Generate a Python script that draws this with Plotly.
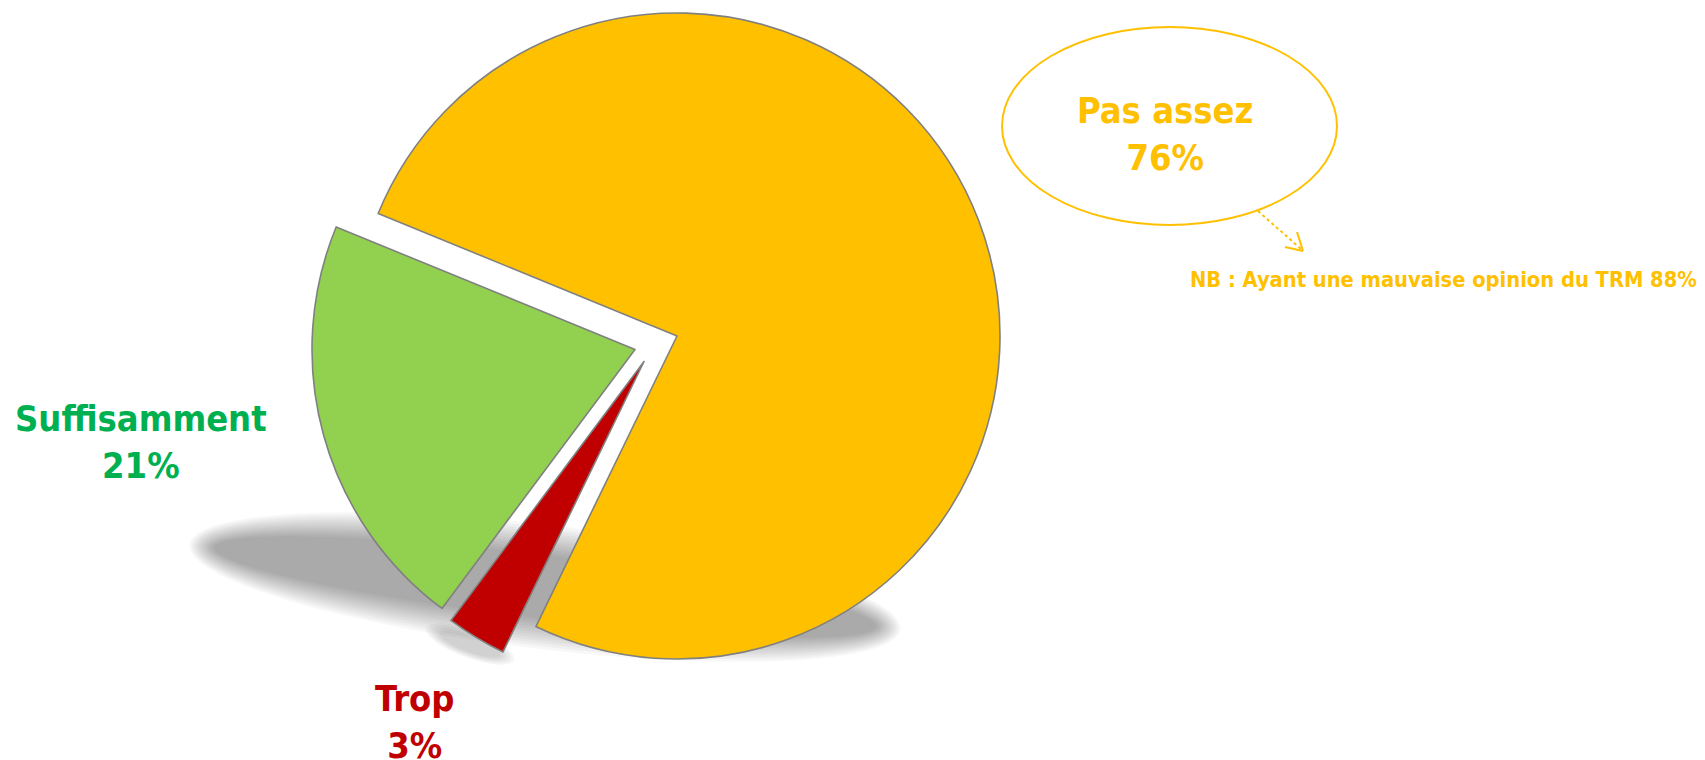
import numpy as np
import plotly.graph_objects as go

# ---- data ----
labels = ["Pas assez", "Trop", "Suffisamment"]
values = [76, 3, 21]
slice_colors = ["#FFC000", "#C00000", "#92D050"]
text_colors = ["#FFC000", "#C00000", "#00B050"]
note_text = "NB : Ayant une mauvaise opinion du TRM 88%"

# ---- layout helpers (pixels) ----
W, H = 1705, 760
R = 323
ROTATION = 292.3
# exploded centres of each slice (pixels)
centres = [(677, 336), (644, 361.5), (635, 349.5)]
FONT = "DejaVu Sans Condensed, Open Sans, sans-serif"


def px(x):
    return x / W


def py(y):
    return 1 - y / H


fig = go.Figure()

for k, (cx, cy) in enumerate(centres):
    cols = [slice_colors[i] if i == k else "rgba(0,0,0,0)" for i in range(len(values))]
    lw = [1.6 if i == k else 0 for i in range(len(values))]
    fig.add_trace(go.Pie(
        labels=labels, values=values, sort=False, direction="clockwise",
        rotation=ROTATION,
        marker=dict(colors=cols, line=dict(color="#808080", width=lw)),
        textinfo="none", hoverinfo="skip", showlegend=False,
        domain=dict(x=[px(cx - R), px(cx + R)], y=[py(cy + R), py(cy - R)]),
    ))

# ---- soft shadow (stacked translucent rotated ellipses) ----
shapes = []
def ellipse_path(cx, cy, a, b, ang_deg, n=90):
    t = np.linspace(0, 2 * np.pi, n, endpoint=False)
    ang = np.radians(ang_deg)
    xs = cx + a * np.cos(t) * np.cos(ang) - b * np.sin(t) * np.sin(ang)
    ys = cy + a * np.cos(t) * np.sin(ang) + b * np.sin(t) * np.cos(ang)
    pts = [f"{px(x):.5f},{py(y):.5f}" for x, y in zip(xs, ys)]
    return "M" + " L".join(pts) + " Z"

for s in np.linspace(1.0, 0.35, 12):
    shapes.append(dict(type="path", xref="paper", yref="paper", layer="below",
                       path=ellipse_path(545, 587, 320 + 38 * s, 16 + 46 * s, 6.8),
                       fillcolor="rgba(0,0,0,0.033)", line=dict(width=0)))
for s in np.linspace(1.0, 0.4, 6):
    shapes.append(dict(type="path", xref="paper", yref="paper", layer="below",
                       path=ellipse_path(470, 644, 22 + 25 * s, 4 + 10 * s, 20),
                       fillcolor="rgba(0,0,0,0.03)", line=dict(width=0)))

# ---- callout ellipse + dotted arrow ----
YEL = "#FFC000"
shapes.append(dict(type="circle", xref="paper", yref="paper",
                   x0=px(1002), x1=px(1337), y0=py(225), y1=py(27),
                   line=dict(color=YEL, width=2), fillcolor="rgba(0,0,0,0)"))
shapes.append(dict(type="line", xref="paper", yref="paper",
                   x0=px(1258), y0=py(211), x1=px(1301), y1=py(249),
                   line=dict(color=YEL, width=2, dash="dot")))
shapes.append(dict(type="line", xref="paper", yref="paper",
                   x0=px(1297), y0=py(232), x1=px(1303), y1=py(251),
                   line=dict(color=YEL, width=2)))
shapes.append(dict(type="line", xref="paper", yref="paper",
                   x0=px(1285), y0=py(247), x1=px(1303), y1=py(251),
                   line=dict(color=YEL, width=2)))

# ---- labels ----
label_pos = [(1165, 134), (415, 722), (141, 442)]
annotations = []
for i, (x, y) in enumerate(label_pos):
    annotations.append(dict(
        x=px(x), y=py(y), xref="paper", yref="paper", showarrow=False,
        xanchor="center", yanchor="middle",
        text=f"<b>{labels[i]}<br>{values[i]}%</b>",
        font=dict(family=FONT, size=36, color=text_colors[i]),
    ))
annotations.append(dict(
    x=px(1699), y=py(279), xref="paper", yref="paper", showarrow=False,
    xanchor="right", yanchor="middle", text=f"<b>{note_text}</b>",
    font=dict(family=FONT, size=21.7, color=YEL),
))

fig.update_layout(
    width=W, height=H, margin=dict(l=0, r=0, t=0, b=0),
    paper_bgcolor="white", plot_bgcolor="white",
    shapes=shapes, annotations=annotations,
)

fig.write_html("out.html", config={"displayModeBar": False},
               post_script="document.body.style.margin='0px';")
